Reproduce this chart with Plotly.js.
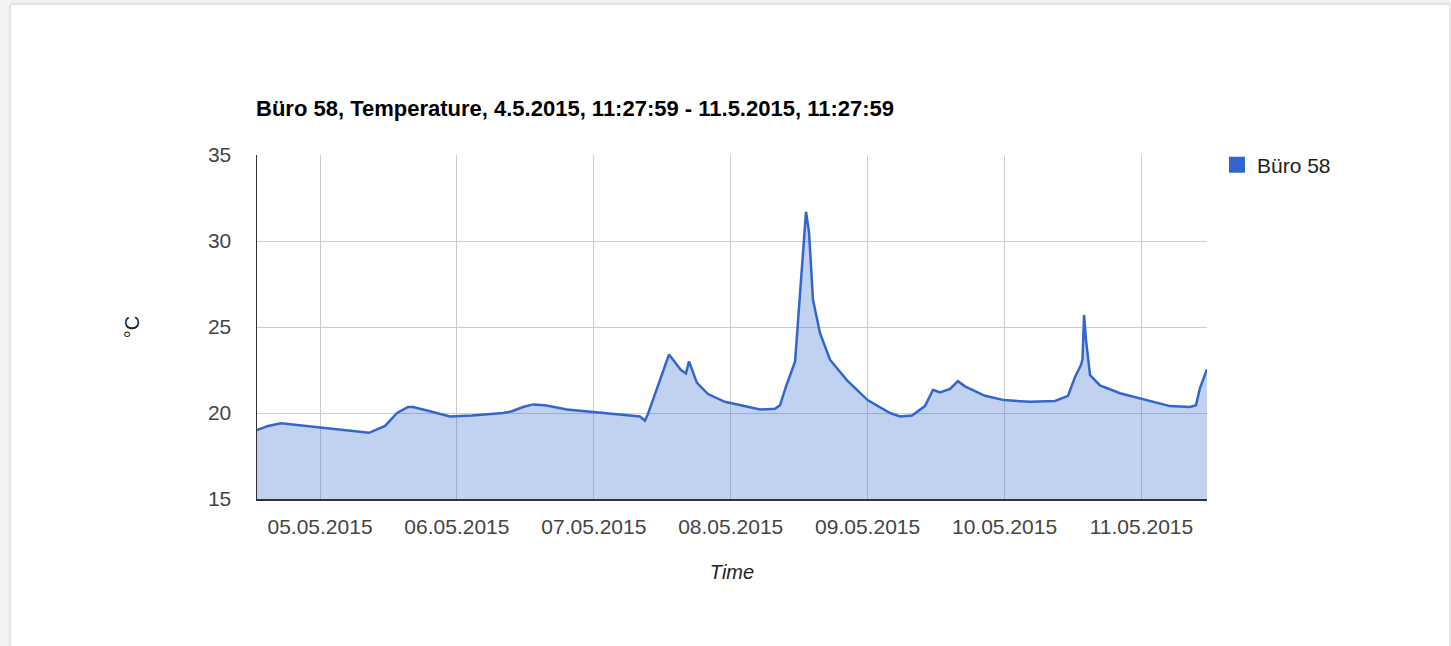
<!DOCTYPE html>
<html>
<head>
<meta charset="utf-8">
<script src="https://cdn.plot.ly/plotly-3.0.1.min.js"></script>
<style>
html,body{margin:0;padding:0;background:#f4f4f4;width:1451px;height:646px;overflow:hidden;}
#card{position:absolute;left:10px;top:4px;width:1438px;height:680px;background:#fff;border:1px solid #e2e2e2;box-shadow:0 0 4px rgba(0,0,0,0.12);}
#chart{position:absolute;left:0;top:0;width:1451px;height:646px;}
</style>
</head>
<body>
<div id="card"></div>
<div id="chart"></div>
<script>
// Data
const seriesName = "Büro 58";
const chartTitle = "Büro 58, Temperature, 4.5.2015, 11:27:59 - 11.5.2015, 11:27:59";
const times = [
  "2015-05-04 12:57","2015-05-04 14:53","2015-05-04 17:10","2015-05-05 08:35","2015-05-05 11:24",
  "2015-05-05 13:30","2015-05-05 15:26","2015-05-05 16:18","2015-05-05 19:16","2015-05-05 22:48",
  "2015-05-06 02:40","2015-05-06 08:05","2015-05-06 09:39","2015-05-06 11:35","2015-05-06 13:21",
  "2015-05-06 15:26","2015-05-06 19:18","2015-05-07 01:05","2015-05-07 08:06","2015-05-07 08:58",
  "2015-05-07 09:30","2015-05-07 13:11","2015-05-07 13:40","2015-05-07 14:14","2015-05-07 15:17",
  "2015-05-07 16:09","2015-05-07 16:41","2015-05-07 18:05","2015-05-07 20:01","2015-05-07 22:59",
  "2015-05-08 05:08","2015-05-08 07:46","2015-05-08 08:38","2015-05-08 09:42","2015-05-08 11:17",
  "2015-05-08 13:12","2015-05-08 13:44","2015-05-08 14:25","2015-05-08 15:39","2015-05-08 17:24",
  "2015-05-08 20:24","2015-05-09 00:00","2015-05-09 03:56","2015-05-09 05:41","2015-05-09 07:47",
  "2015-05-09 10:03","2015-05-09 11:28","2015-05-09 12:42","2015-05-09 14:27","2015-05-09 15:50",
  "2015-05-09 17:04","2015-05-09 20:35","2015-05-09 23:54","2015-05-10 04:28","2015-05-10 08:51",
  "2015-05-10 11:08","2015-05-10 12:22","2015-05-10 13:25","2015-05-10 13:40","2015-05-10 13:57",
  "2015-05-10 14:17","2015-05-10 15:00","2015-05-10 16:45","2015-05-10 20:15","2015-05-10 23:56",
  "2015-05-11 05:01","2015-05-11 08:31","2015-05-11 09:34","2015-05-11 10:16","2015-05-11 11:30"
];
const temps = [
  19.0, 19.25, 19.4, 18.85, 19.25,
  20.0, 20.35, 20.35, 20.1, 19.8,
  19.85, 20.0, 20.1, 20.35, 20.5,
  20.45, 20.2, 20.0, 19.8, 19.55,
  19.95, 23.4, 23.2, 22.95, 22.5,
  22.3, 23.0, 21.75, 21.1, 20.65,
  20.2, 20.25, 20.45, 21.55, 23.0,
  31.7, 30.5, 26.6, 24.65, 23.1,
  21.9, 20.75, 20.0, 19.8, 19.85,
  20.4, 21.35, 21.2, 21.4, 21.85,
  21.55, 21.0, 20.75, 20.65, 20.7,
  21.0, 22.1, 22.8, 23.1, 25.7,
  24.25, 22.2, 21.6, 21.15, 20.85,
  20.4, 20.35, 20.45, 21.45, 22.55
];
const yTicks = [15, 20, 25, 30, 35];

const lineColor = "#3366cc";
const traces = [
  {
    x: times, y: temps, type: "scatter", mode: "lines",
    fill: "tozeroy", fillcolor: "rgba(51,102,204,0.3)",
    line: {color: lineColor, width: 2.5},
    name: seriesName, showlegend: false, hoverinfo: "x+y"
  },
  {
    x: [null], y: [null], type: "scatter", mode: "markers",
    marker: {symbol: "square", size: 20, color: lineColor},
    name: seriesName, showlegend: true
  }
];

const layout = {
  width: 1451, height: 646,
  paper_bgcolor: "rgba(0,0,0,0)", plot_bgcolor: "rgba(0,0,0,0)",
  margin: {l: 257, r: 244, t: 155, b: 147, pad: 0},
  font: {family: "Liberation Sans, Arial, sans-serif", color: "#444"},
  title: {
    text: "<b>" + chartTitle + "</b>",
    xref: "container", x: 256/1451, xanchor: "left",
    yref: "container", y: 1 - 108/646, yanchor: "middle",
    font: {size: 22, color: "#000", family: "Liberation Sans, Arial, sans-serif"}
  },
  xaxis: {
    type: "date",
    range: [times[0], times[times.length - 1]],
    tick0: "2015-05-05", dtick: 86400000,
    tickformat: "%d.%m.%Y",
    showgrid: true, gridcolor: "#cccccc", gridwidth: 1,
    showline: true, linecolor: "#333", linewidth: 1.5,
    ticks: "", zeroline: false,
    tickfont: {size: 21, color: "#444"},
    ticklabelstandoff: 8,
    title: {text: "<i>Time</i>", font: {size: 20, color: "#222"}, standoff: 28}
  },
  yaxis: {
    range: [15, 35],
    tickvals: yTicks,
    showgrid: true, gridcolor: "#cccccc", gridwidth: 1,
    showline: true, linecolor: "#333", linewidth: 1.5,
    ticks: "", zeroline: false,
    tickfont: {size: 21, color: "#444"},
    ticklabelstandoff: 20,
    title: {text: "°C", font: {size: 20, color: "#222"}, standoff: 63}
  },
  legend: {
    x: 1.0105, xanchor: "left", y: 1.03, yanchor: "top",
    font: {size: 21, color: "#222"},
    bgcolor: "rgba(0,0,0,0)", itemsizing: "trace"
  },
  showlegend: true
};

Plotly.newPlot("chart", traces, layout, {displayModeBar: false, staticPlot: true});
</script>
</body>
</html>
